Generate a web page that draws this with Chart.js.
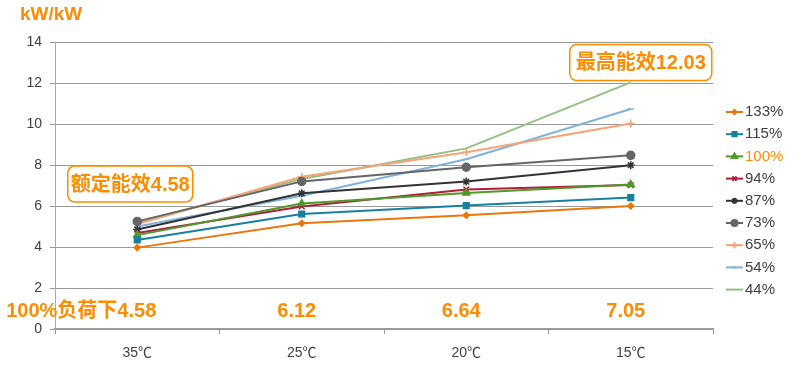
<!DOCTYPE html>
<html>
<head>
<meta charset="utf-8">
<script src="https://cdn.jsdelivr.net/npm/chart.js@4.4.1/dist/chart.umd.min.js"></script>
<style>
  html,body{margin:0;padding:0;background:#fff;}
  #wrap{width:800px;height:368px;position:relative;}
</style>
</head>
<body>
<div id="wrap"><canvas id="c" width="800" height="368"></canvas></div>
<script>
var categories = ['35℃', '25℃', '20℃', '15℃'];
var yTicks = [0, 2, 4, 6, 8, 10, 12, 14];

var load133 = [3.97, 5.16, 5.55, 6.00];
var load115 = [4.34, 5.61, 6.02, 6.41];
var load100 = [4.58, 6.12, 6.64, 7.05];
var load94  = [4.68, 5.98, 6.81, 7.02];
var load87  = [4.85, 6.62, 7.19, 7.99];
var load73  = [5.25, 7.20, 7.89, 8.47];
var load65  = [5.12, 7.43, 8.62, 10.02];
var load54  = [5.00, 6.50, 8.28, 10.73];
var load44  = [5.20, 7.32, 8.81, 12.03];

var seriesNames = ['133%', '115%', '100%', '94%', '87%', '73%', '65%', '54%', '44%'];
var bottomValues = ['100%负荷下4.58', '6.12', '6.64', '7.05'];
var ratedText = '额定能效4.58';
var maxText = '最高能效12.03';

var FONT = '"Liberation Sans", "Noto Sans CJK SC", Arial, sans-serif';
var ORANGE = '#FF8C00';

function ds(label, data, color, style, radius){
    return {
        label: label, data: data,
        borderColor: color, backgroundColor: color,
        borderWidth: 2, pointStyle: style, pointRadius: radius,
        pointBorderWidth: 1.5, pointHoverRadius: radius,
        tension: 0
    };
}

var datasets = [
    ds(seriesNames[0], load133, '#E8780C', 'rectRot', 3),
    ds(seriesNames[1], load115, '#17809F', 'rect', 4),
    ds(seriesNames[2], load100, '#4E9A2A', 'triangle', 4),
    ds(seriesNames[3], load94,  '#B01E3A', 'crossRot', 4),
    ds(seriesNames[4], load87,  '#333333', 'star', 4),
    ds(seriesNames[5], load73,  '#666666', 'circle', 4),
    ds(seriesNames[6], load65,  '#F7A277', 'cross', 4),
    ds(seriesNames[7], load54,  '#80B2DA', 'line', 3),
    ds(seriesNames[8], load44,  '#92C083', 'circle', 0)
];

function roundRect(ctx, x, y, w, h, r){
    ctx.beginPath();
    ctx.moveTo(x+r, y);
    ctx.arcTo(x+w, y, x+w, y+h, r);
    ctx.arcTo(x+w, y+h, x, y+h, r);
    ctx.arcTo(x, y+h, x, y, r);
    ctx.arcTo(x, y, x+w, y, r);
    ctx.closePath();
}

var extras = {
    id: 'extras',
    afterDraw: function(chart){
        var ctx = chart.ctx, xs = chart.scales.x, ys = chart.scales.y, ca = chart.chartArea;
        ctx.save();
        // unit
        ctx.fillStyle = ORANGE;
        ctx.font = 'bold 19px ' + FONT;
        ctx.textBaseline = 'middle';
        ctx.textAlign = 'left';
        ctx.fillText('kW/kW', 20, 15);

        // bottom values for 100% load
        ctx.font = 'bold 20px ' + FONT;
        ctx.textAlign = 'right';
        ctx.fillText(bottomValues[0], xs.getPixelForValue(0) + 19, 311);
        ctx.textAlign = 'center';
        for (var i = 1; i < bottomValues.length; i++) {
            ctx.fillText(bottomValues[i], xs.getPixelForValue(i) - 5, 311);
        }

        // boxes
        function box(text, cx, cy, w, h){
            ctx.lineWidth = 1.5;
            ctx.strokeStyle = ORANGE;
            ctx.fillStyle = '#fff';
            roundRect(ctx, cx - w/2, cy - h/2, w, h, 7);
            ctx.fill();
            ctx.stroke();
            ctx.fillStyle = ORANGE;
            ctx.textAlign = 'center';
            ctx.fillText(text, cx, cy + 1);
        }
        box(ratedText, xs.getPixelForValue(0) - 7, ys.getPixelForValue(7.07), 125, 36);
        box(maxText, xs.getPixelForValue(3) + 10, ys.getPixelForValue(13.0), 142, 36);

        // legend
        var ly = 112, step = 22.2;
        ctx.font = '15px ' + FONT;
        ctx.textAlign = 'left';
        for (var k = 0; k < chart.data.datasets.length; k++) {
            var d = chart.data.datasets[k];
            var y = ly + k * step;
            ctx.strokeStyle = d.borderColor;
            ctx.lineWidth = 2;
            ctx.beginPath();
            ctx.moveTo(ca.right + 13, y);
            ctx.lineTo(ca.right + 30, y);
            ctx.stroke();
            if (d.pointRadius > 0) {
                ctx.fillStyle = d.borderColor;
                Chart.helpers.drawPoint(ctx, {
                    pointStyle: d.pointStyle, radius: d.pointRadius - 1, rotation: 0, borderWidth: 1.5
                }, ca.right + 21.5, y);
            }
            ctx.fillStyle = k === 2 ? ORANGE : '#404040';
            ctx.fillText(d.label, ca.right + 32, y);
        }
        ctx.restore();
    }
};

new Chart(document.getElementById('c'), {
    type: 'line',
    data: { labels: categories, datasets: datasets },
    plugins: [extras],
    options: {
        responsive: false,
        animation: false,
        layout: { padding: { top: 42, right: 87, left: 0, bottom: 0 } },
        plugins: { legend: { display: false }, tooltip: { enabled: false } },
        scales: {
            x: {
                offset: true,
                grid: { offset: true, drawOnChartArea: false, color: '#999', tickLength: 5 },
                border: { color: '#999', width: 1.5 },
                ticks: { color: '#404040', font: { size: 14, family: FONT }, padding: 11 },
                afterFit: function(s){ s.height = 39; }
            },
            y: {
                min: 0, max: 14,
                afterBuildTicks: function(s){ s.ticks = yTicks.map(function(v){ return { value: v }; }); },
                grid: { color: '#999', tickLength: 5 },
                border: { color: '#aaa', width: 1 },
                ticks: { color: '#404040', font: { size: 14, family: FONT }, padding: 8 },
                afterFit: function(s){ s.width = 55; }
            }
        }
    }
});
</script>
</body>
</html>
